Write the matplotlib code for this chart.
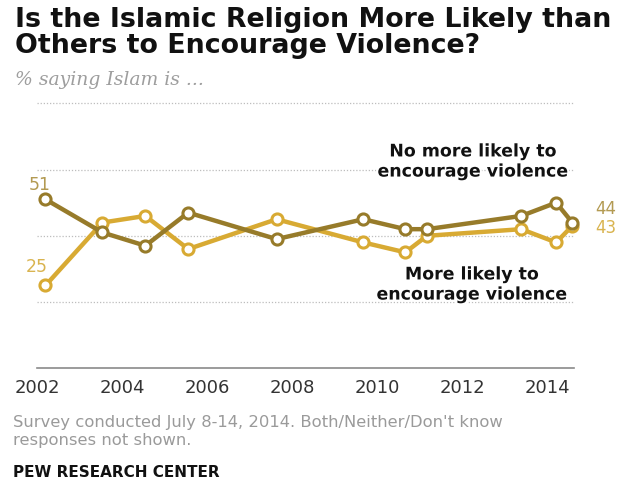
import matplotlib
matplotlib.use("Agg")
import matplotlib.pyplot as plt
import matplotlib.patheffects as pe

# ---- data ----
dates = [2002.18, 2003.52, 2004.53, 2005.54, 2007.62, 2009.66, 2010.65, 2011.16, 2013.38, 2014.2, 2014.58]
no_more_likely = [51, 41, 37, 47, 39, 45, 42, 42, 46, 50, 44]
more_likely = [25, 44, 46, 36, 45, 38, 35, 40, 42, 38, 43]
year_ticks = [2002, 2004, 2006, 2008, 2010, 2012, 2014]
y_grid = [20, 40, 60, 80]

title_lines = ["Is the Islamic Religion More Likely than", "Others to Encourage Violence?"]
subtitle = "% saying Islam is ..."
note_lines = ["Survey conducted July 8-14, 2014. Both/Neither/Don't know", "responses not shown."]
source = "PEW RESEARCH CENTER"

DARK = "#977b2a"
LIGHT = "#d8aa33"

W, H = 619, 497
fig = plt.figure(figsize=(W / 100, H / 100), dpi=100)
fig.patch.set_facecolor("white")


def fx(x):
    return x / W


def fy(y):
    return 1 - y / H


ax = fig.add_axes([fx(37), fy(368.3), fx(574) - fx(37), fy(103.3) - fy(368.3)])
ax.set_xlim(2001.98, 2014.62)
ax.set_ylim(0, 80)
for s in ["top", "left", "right"]:
    ax.spines[s].set_visible(False)
ax.spines["bottom"].set_color("#8a8a8a")
ax.spines["bottom"].set_linewidth(1.2)
ax.set_yticks([])
ax.set_xticks(year_ticks)
ax.set_xticklabels([str(y) for y in year_ticks], fontsize=13, color="#333333")
ax.tick_params(axis="x", length=0, pad=8)
for g in y_grid:
    ax.axhline(g, color="#bdbdbd", lw=0.9, ls=(0, (1, 1.5)), zorder=0, clip_on=False)

ax.plot(dates, more_likely, color=LIGHT, lw=3.2, marker="o", ms=8, mfc="white",
        mec=LIGHT, mew=2.2, zorder=3, clip_on=False)
ax.plot(dates, no_more_likely, color=DARK, lw=3.2, marker="o", ms=8, mfc="white",
        mec=DARK, mew=2.2, zorder=4, clip_on=False)

halo = [pe.withStroke(linewidth=3, foreground="white")]
# start / end value labels
ax.annotate(str(no_more_likely[0]), (dates[0], no_more_likely[0]), xytext=(-4, 10.5),
            textcoords="offset points", ha="center", va="center", fontsize=12.5, color="#b39a52")
ax.annotate(str(more_likely[0]), (dates[0], more_likely[0]), xytext=(-6.5, 13.5),
            textcoords="offset points", ha="center", va="center", fontsize=12.5, color="#d9b450")
ax.annotate(str(no_more_likely[-1]), (dates[-1], no_more_likely[-1]), xytext=(16.3, 9.4),
            textcoords="offset points", ha="left", va="center", fontsize=12, color="#b39a52")
ax.annotate(str(more_likely[-1]), (dates[-1], more_likely[-1]), xytext=(16.3, -1.2),
            textcoords="offset points", ha="left", va="center", fontsize=12, color="#d9b450")

# series labels
fig.text(fx(473), fy(161.5), "No more likely to\nencourage violence", ha="center", va="center",
         fontsize=12.5, fontweight="bold", color="#111111", linespacing=1.15, path_effects=halo)
fig.text(fx(472), fy(284.5), "More likely to\nencourage violence", ha="center", va="center",
         fontsize=12.5, fontweight="bold", color="#111111", linespacing=1.15, path_effects=halo)

# title
t1 = fig.text(fx(15), fy(26.7), title_lines[0], ha="left", va="baseline",
              fontsize=16, fontweight="heavy", family="DejaVu Sans", color="#111111")
t2 = fig.text(fx(15), fy(53.3), title_lines[1], ha="left", va="baseline",
              fontsize=16, fontweight="heavy", family="DejaVu Sans", color="#111111")
fig.canvas.draw()
r = fig.canvas.get_renderer()
w1 = t1.get_window_extent(r).width
size = 16 * 599 / w1
t1.set_fontsize(size)
t2.set_fontsize(size)

fig.text(fx(15), fy(85), subtitle, ha="left", va="baseline", fontsize=13.5,
         family="DejaVu Serif", style="italic", color="#9e9e9e")

fig.text(fx(13), fy(427), note_lines[0], ha="left", va="baseline", fontsize=11.8, color="#9a9a9a")
fig.text(fx(13), fy(445), note_lines[1], ha="left", va="baseline", fontsize=11.8, color="#9a9a9a")
fig.text(fx(13), fy(477), source, ha="left", va="baseline", fontsize=11, fontweight="bold",
         color="#111111")

fig.savefig("out.png", dpi=100, facecolor="white")
